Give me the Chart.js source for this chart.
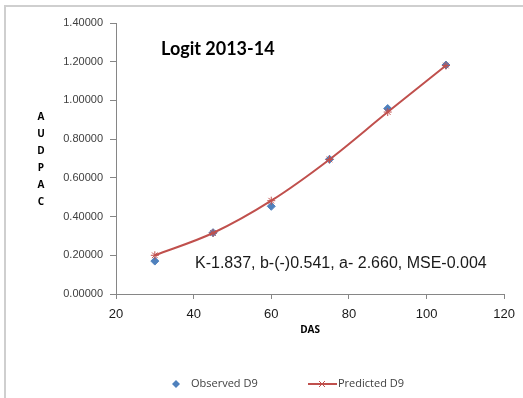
<!DOCTYPE html>
<html>
<head>
<meta charset="utf-8">
<script src="https://cdn.jsdelivr.net/npm/chart.js@4/dist/chart.umd.min.js"></script>
<style>
  html, body { margin: 0; padding: 0; background: #fff; }
  #wrap { width: 523px; height: 398px; position: relative; }
</style>
</head>
<body>
<div id="wrap"><canvas id="chart" width="523" height="398"></canvas></div>
<script>
const das = [30, 45, 60, 75, 90, 105];
const observed = [0.170, 0.317, 0.453, 0.696, 0.958, 1.183];
const predicted = [0.200, 0.315, 0.482, 0.695, 0.940, 1.180];
const xTicks = [20, 40, 60, 80, 100, 120];
const yTicks = [0, 0.2, 0.4, 0.6, 0.8, 1.0, 1.2, 1.4];

const chartTitle = "Logit 2013-14";
const note = "K-1.837, b-(-)0.541, a- 2.660, MSE-0.004";
const yTitle = "AUDPAC";
const xTitle = "DAS";

const blue = "#4f81bd";
const red = "#c0504d";

const extras = {
  id: "extras",
  afterDraw(chart) {
    const ctx = chart.ctx;
    const area = chart.chartArea;
    ctx.save();

    // frame
    ctx.strokeStyle = "#cfcfcf";
    ctx.lineWidth = 2;
    ctx.beginPath();
    ctx.moveTo(5, 398);
    ctx.lineTo(5, 6);
    ctx.lineTo(523, 6);
    ctx.stroke();

    // title
    ctx.fillStyle = "#000";
    ctx.font = "bold 18px Lato, sans-serif";
    ctx.textAlign = "left";
    ctx.textBaseline = "middle";
    ctx.fillText(chartTitle, 161, 49);

    // fit note
    ctx.font = "16px 'Liberation Sans', Arial, sans-serif";
    ctx.fillStyle = "#1a1a1a";
    ctx.fillText(note, 195, 264);

    // y axis title, stacked letters
    ctx.font = "bold 10px 'Open Sans', sans-serif";
    ctx.textAlign = "center";
    ctx.fillStyle = "#000";
    yTitle.split("").forEach((ch, i) => ctx.fillText(ch, 41, 117 + i * 17));

    // x axis title
    ctx.fillText(xTitle, (area.left + area.right) / 2, 330);

    // legend
    const ly = 384;
    ctx.fillStyle = blue;
    ctx.beginPath();
    ctx.moveTo(176, ly - 4);
    ctx.lineTo(180, ly);
    ctx.lineTo(176, ly + 4);
    ctx.lineTo(172, ly);
    ctx.closePath();
    ctx.fill();

    ctx.strokeStyle = red;
    ctx.lineWidth = 2;
    ctx.beginPath();
    ctx.moveTo(308, ly);
    ctx.lineTo(337, ly);
    ctx.stroke();
    ctx.lineWidth = 1;
    ctx.beginPath();
    ctx.moveTo(319, ly - 3);
    ctx.lineTo(325, ly + 3);
    ctx.moveTo(325, ly - 3);
    ctx.lineTo(319, ly + 3);
    ctx.stroke();

    ctx.font = "11px 'Open Sans', sans-serif";
    ctx.fillStyle = "#404040";
    ctx.textAlign = "left";
    ctx.fillText("Observed D9", 191, ly);
    ctx.fillText("Predicted D9", 338, ly);

    ctx.restore();
  }
};

new Chart(document.getElementById("chart"), {
  type: "scatter",
  data: {
    datasets: [
      {
        label: "Observed D9",
        data: das.map((x, i) => ({ x: x, y: observed[i] })),
        pointStyle: "rectRot",
        pointRadius: 4,
        backgroundColor: blue,
        borderColor: blue,
        showLine: false,
        order: 2
      },
      {
        label: "Predicted D9",
        data: das.map((x, i) => ({ x: x, y: predicted[i] })),
        showLine: true,
        borderColor: red,
        borderWidth: 2,
        tension: 0.4,
        cubicInterpolationMode: "monotone",
        pointStyle: "star",
        pointRadius: 4,
        pointBorderWidth: 1,
        pointBorderColor: red,
        backgroundColor: red,
        order: 1
      }
    ]
  },
  options: {
    responsive: false,
    animation: false,
    layout: { padding: { left: 0, top: 23, right: 16, bottom: 0 } },
    plugins: {
      legend: { display: false },
      tooltip: { enabled: false }
    },
    scales: {
      x: {
        type: "linear",
        min: 20,
        max: 120,
        afterBuildTicks: (scale) => { scale.ticks = xTicks.map((v) => ({ value: v })); },
        afterFit: (scale) => { scale.height = 104; },
        border: { color: "#868686", width: 1 },
        grid: { drawOnChartArea: false, tickLength: 5, color: "#868686" },
        ticks: {
          padding: 8,
          color: "#1a1a1a",
          font: { family: "'Liberation Sans', Arial, sans-serif", size: 13 }
        }
      },
      y: {
        min: 0,
        max: 1.4,
        afterBuildTicks: (scale) => { scale.ticks = yTicks.map((v) => ({ value: v })); },
        afterFit: (scale) => { scale.width = 116; },
        border: { color: "#868686", width: 1 },
        grid: { drawOnChartArea: false, tickLength: 6, color: "#868686" },
        ticks: {
          padding: 7,
          color: "#404040",
          font: { family: "'Liberation Sans', Arial, sans-serif", size: 11 },
          callback: (v) => Number(v).toFixed(5)
        }
      }
    }
  },
  plugins: [extras]
});
</script>
</body>
</html>
